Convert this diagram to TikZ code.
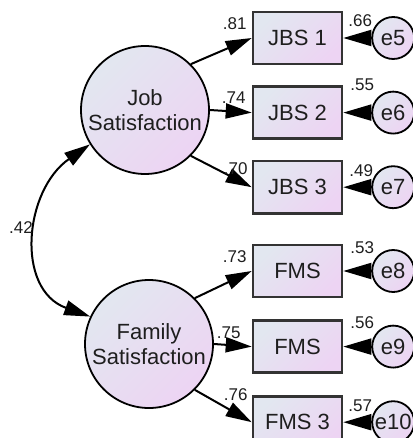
\documentclass[tikz,border=0pt]{standalone}
\usepackage{fontspec}
\setmainfont{Liberation Sans}
\usetikzlibrary{arrows.meta}
\usetikzlibrary{calc}
\usetikzlibrary{positioning}
\definecolor{sem-blue}{RGB}{226, 231, 240}
\definecolor{sem-pink}{RGB}{237, 212, 243}
\definecolor{sem-text}{RGB}{30, 30, 30}

\tikzset{
  latent/.style={circle, draw=black, line width=1.8pt, minimum size=128pt, inner sep=0pt,
    align=center, top color=sem-blue, bottom color=sem-pink, shading angle=45,
    font=\fontsize{22}{25}\selectfont, text=sem-text},
  observed/.style={rectangle, draw=black!80, line width=2.6pt, minimum width=89pt,
    minimum height=52pt, inner sep=0pt, top color=sem-blue, bottom color=sem-pink,
    shading angle=45, font=\fontsize{22}{25}\selectfont, text=sem-text},
  errnode/.style={circle, draw=black, line width=1.8pt, minimum size=42pt, inner sep=0pt,
    top color=sem-blue, bottom color=sem-pink, shading angle=45,
    font=\fontsize{22}{25}\selectfont, text=sem-text},
  load/.style={-{Triangle[length=26pt, width=15pt]}, line width=2pt},
  errarr/.style={-{Triangle[length=28pt, width=16pt]}, line width=2pt},
  corr/.style={{Triangle[length=26pt, width=15pt]}-{Triangle[length=26pt, width=15pt]}, line width=2pt},
  coef/.style={font=\fontsize{17}{17}\selectfont, inner sep=0pt, text=sem-text}
}

\begin{document}
\begin{tikzpicture}[x=1pt, y=-1pt]
\useasboundingbox (0,0) rectangle (412,438);

% latent factors
\node[latent] (job) at (145,110) {Job\\Satisfaction};
\node[latent] (fam) at (149,344) {Family\\Satisfaction};

% indicators
\node[observed] (jbs1) at (297.5,38) {JBS 1};
\node[observed, below=20pt of jbs1] (jbs2) {JBS 2};
\node[observed, below=20pt of jbs2] (jbs3) {JBS 3};
\node[observed] (fms1) at (297.5,271) {FMS};
\node[observed, below=21pt of fms1] (fms2) {FMS};
\node[observed, below=21pt of fms2] (fms3) {FMS 3};

% error terms
\node[errnode, right=28pt of jbs1] (e5) {e5};
\node[errnode, right=28pt of jbs2] (e6) {e6};
\node[errnode, right=28pt of jbs3] (e7) {e7};
\node[errnode, right=28pt of fms1] (e8) {e8};
\node[errnode, right=28pt of fms2] (e9) {e9};
\node[errnode, right=28pt of fms3] (e10) {e10};

% loadings
\draw[load] (job.45) -- (jbs1.west);
\draw[load] (job.0) -- (jbs2.west);
\draw[load] (job.-45) -- (jbs3.west);
\draw[load] (fam.45) -- (fms1.west);
\draw[load] (fam.0) -- (fms2.west);
\draw[load] (fam.-45) -- (fms3.west);

\draw[errarr] (e5) -- (jbs1);
\draw[errarr] (e6) -- (jbs2);
\draw[errarr] (e7) -- (jbs3);
\draw[errarr] (e8) -- (fms1);
\draw[errarr] (e9) -- (fms2);
\draw[errarr] (e10) -- (fms3);

% covariance
\draw[corr] (job.212) .. controls +(-66,46) and +(-75,-27) .. (fam.155);
\node[coef] (r42) at (21,228) {.42};

% standardized estimates
\node[coef] (l1) at ($(jbs1.west)+(-17,-14)$) {.81};
\node[coef] (l2) at ($(jbs2.west)+(-18,-15)$) {.74};
\node[coef] (l3) at ($(jbs3.west)+(-16,-19)$) {.70};
\node[coef] (l4) at ($(fms1.west)+(-17,-14)$) {.73};
\node[coef] (l5) at ($(fms2.west)+(-23,-14)$) {.75};
\node[coef] (l6) at ($(fms3.west)+(-16,-28)$) {.76};

\node[coef] (r1) at ($(jbs1.east)+(17,-17)$) {.66};
\node[coef] (r2) at ($(jbs2.east)+(19,-28)$) {.55};
\node[coef] (r3) at ($(jbs3.east)+(18,-17)$) {.49};
\node[coef] (r4) at ($(fms1.east)+(19,-23)$) {.53};
\node[coef] (r5) at ($(fms2.east)+(19,-24)$) {.56};
\node[coef] (r6) at ($(fms3.east)+(17,-16)$) {.57};
\end{tikzpicture}
\end{document}
